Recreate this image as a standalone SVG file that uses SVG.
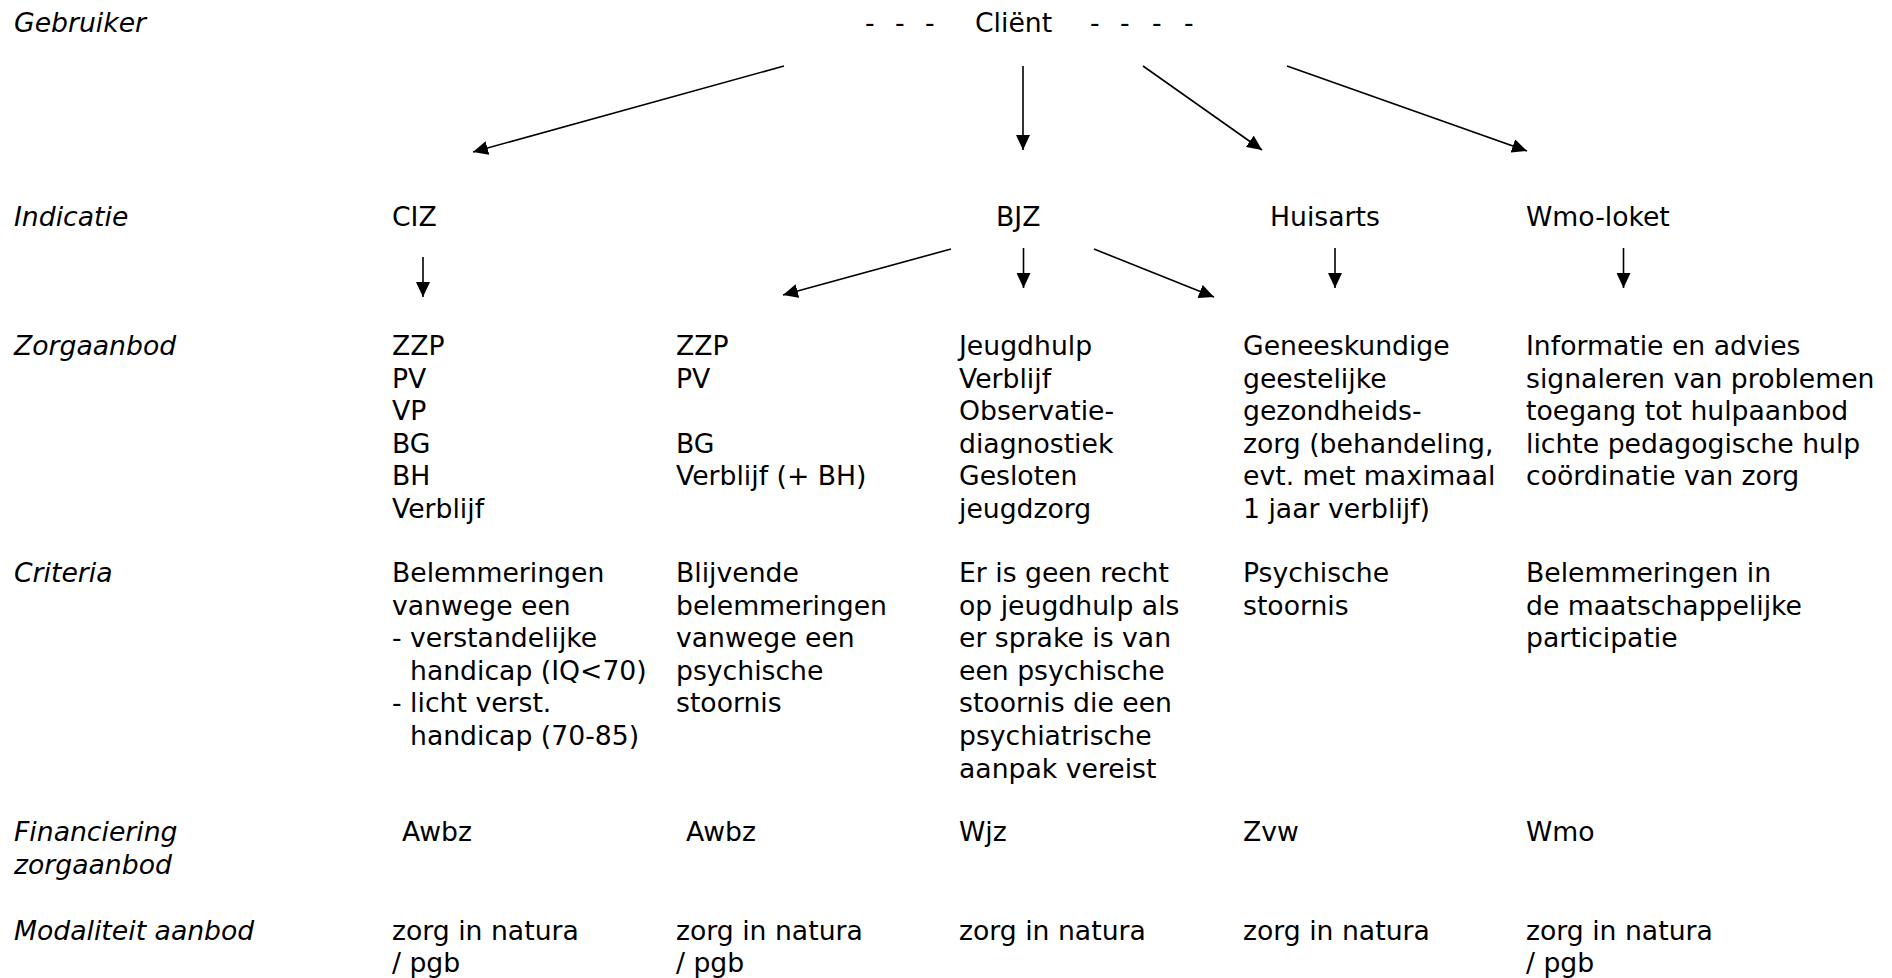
<svg xmlns="http://www.w3.org/2000/svg" width="1892" height="978" viewBox="0 0 1892 978">
<style>
text { font-family: "DejaVu Sans", Verdana, "Liberation Sans", sans-serif; font-size: 26.67px; fill: #000; }
.lbl { font-style: italic; }
.arr { stroke: #000; stroke-width: 1.6; fill: none; marker-end: url(#ah); }
</style>
<defs>
<marker id="ah" markerUnits="userSpaceOnUse" markerWidth="15" markerHeight="14" refX="15" refY="7" orient="auto">
<path d="M0,0 L15,7 L0,14 z" fill="#000"/>
</marker>
</defs>
<rect width="1892" height="978" fill="#fff"/>

<g id="row-labels">
<text class="lbl" x="14" y="32">Gebruiker</text>
<text class="lbl" x="14" y="226">Indicatie</text>
<text class="lbl" x="14" y="355">Zorgaanbod</text>
<text class="lbl" x="14" y="582">Criteria</text>
<text class="lbl" x="14" y="841">Financiering<tspan x="14" dy="32.6">zorgaanbod</tspan></text>
<text class="lbl" x="14" y="940">Modaliteit aanbod</text>
</g>

<g id="client">
<text x="865 895 925" y="32">---</text>
<text x="975" y="32">Cliënt</text>
<text x="1090 1120 1152 1184" y="32">----</text>
</g>

<g id="ciz"><text x="392" y="226">CIZ</text></g>
<g id="bjz"><text x="996" y="226">BJZ</text></g>
<g id="huisarts"><text x="1270" y="226">Huisarts</text></g>
<g id="wmo-loket"><text x="1526" y="226">Wmo-loket</text></g>

<g id="zorg-ciz"><text x="392" y="355">ZZP<tspan x="392" dy="32.6">PV</tspan><tspan x="392" dy="32.6">VP</tspan><tspan x="392" dy="32.6">BG</tspan><tspan x="392" dy="32.6">BH</tspan><tspan x="392" dy="32.6">Verblijf</tspan></text></g>
<g id="zorg-bjz-awbz"><text x="676" y="355">ZZP<tspan x="676" dy="32.6">PV</tspan><tspan x="676" dy="65.2">BG</tspan><tspan x="676" dy="32.6">Verblijf (+ BH)</tspan></text></g>
<g id="zorg-bjz-wjz"><text x="959" y="355">Jeugdhulp<tspan x="959" dy="32.6">Verblijf</tspan><tspan x="959" dy="32.6">Observatie-</tspan><tspan x="959" dy="32.6">diagnostiek</tspan><tspan x="959" dy="32.6">Gesloten</tspan><tspan x="959" dy="32.6">jeugdzorg</tspan></text></g>
<g id="zorg-huisarts"><text x="1243" y="355">Geneeskundige<tspan x="1243" dy="32.6">geestelijke</tspan><tspan x="1243" dy="32.6">gezondheids-</tspan><tspan x="1243" dy="32.6">zorg (behandeling,</tspan><tspan x="1243" dy="32.6">evt. met maximaal</tspan><tspan x="1243" dy="32.6">1 jaar verblijf)</tspan></text></g>
<g id="zorg-wmo"><text x="1526" y="355">Informatie en advies<tspan x="1526" dy="32.6">signaleren van problemen</tspan><tspan x="1526" dy="32.6">toegang tot hulpaanbod</tspan><tspan x="1526" dy="32.6">lichte pedagogische hulp</tspan><tspan x="1526" dy="32.6">coördinatie van zorg</tspan></text></g>

<g id="crit-ciz"><text x="392" y="582">Belemmeringen<tspan x="392" dy="32.6">vanwege een</tspan><tspan x="392" dy="32.6">- verstandelijke</tspan><tspan x="410" dy="32.6">handicap (IQ&lt;70)</tspan><tspan x="392" dy="32.6">- licht verst.</tspan><tspan x="410" dy="32.6">handicap (70-85)</tspan></text></g>
<g id="crit-bjz-awbz"><text x="676" y="582">Blijvende<tspan x="676" dy="32.6">belemmeringen</tspan><tspan x="676" dy="32.6">vanwege een</tspan><tspan x="676" dy="32.6">psychische</tspan><tspan x="676" dy="32.6">stoornis</tspan></text></g>
<g id="crit-bjz-wjz"><text x="959" y="582">Er is geen recht<tspan x="959" dy="32.6">op jeugdhulp als</tspan><tspan x="959" dy="32.6">er sprake is van</tspan><tspan x="959" dy="32.6">een psychische</tspan><tspan x="959" dy="32.6">stoornis die een</tspan><tspan x="959" dy="32.6">psychiatrische</tspan><tspan x="959" dy="32.6">aanpak vereist</tspan></text></g>
<g id="crit-huisarts"><text x="1243" y="582">Psychische<tspan x="1243" dy="32.6">stoornis</tspan></text></g>
<g id="crit-wmo"><text x="1526" y="582">Belemmeringen in<tspan x="1526" dy="32.6">de maatschappelijke</tspan><tspan x="1526" dy="32.6">participatie</tspan></text></g>

<g id="fin-ciz"><text x="402" y="841">Awbz</text></g>
<g id="fin-bjz-awbz"><text x="686" y="841">Awbz</text></g>
<g id="fin-bjz-wjz"><text x="959" y="841">Wjz</text></g>
<g id="fin-huisarts"><text x="1243" y="841">Zvw</text></g>
<g id="fin-wmo"><text x="1526" y="841">Wmo</text></g>

<g id="mod-ciz"><text x="392" y="940">zorg in natura<tspan x="392" dy="32">/ pgb</tspan></text></g>
<g id="mod-bjz-awbz"><text x="676" y="940">zorg in natura<tspan x="676" dy="32">/ pgb</tspan></text></g>
<g id="mod-bjz-wjz"><text x="959" y="940">zorg in natura</text></g>
<g id="mod-huisarts"><text x="1243" y="940">zorg in natura</text></g>
<g id="mod-wmo"><text x="1526" y="940">zorg in natura<tspan x="1526" dy="32">/ pgb</tspan></text></g>

<g id="connectors">
<line class="arr" x1="784" y1="66" x2="473" y2="152"/>
<line class="arr" x1="1023" y1="66" x2="1023" y2="150"/>
<line class="arr" x1="1143" y1="66" x2="1262" y2="150"/>
<line class="arr" x1="1287" y1="66" x2="1527" y2="151"/>
<line class="arr" x1="423" y1="257" x2="423" y2="297"/>
<line class="arr" x1="951" y1="249" x2="783" y2="295"/>
<line class="arr" x1="1023.5" y1="248" x2="1023.5" y2="288"/>
<line class="arr" x1="1094" y1="249" x2="1214" y2="297"/>
<line class="arr" x1="1335" y1="248" x2="1335" y2="288"/>
<line class="arr" x1="1623.5" y1="248" x2="1623.5" y2="288"/>
</g>
</svg>
